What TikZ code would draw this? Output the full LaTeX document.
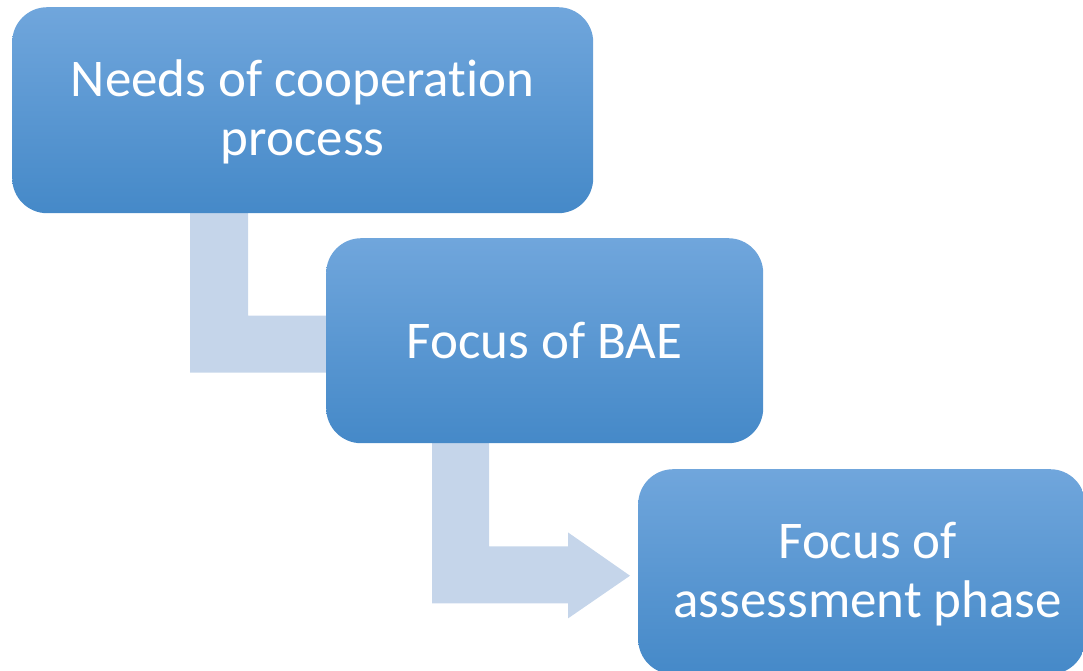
\documentclass[tikz,border=0pt]{standalone}
\usepackage{fontspec}
\setmainfont{Carlito}[Ligatures=CommonOff]
\usetikzlibrary{calc,backgrounds}
\definecolor{boxtop}{HTML}{70A6DC}
\definecolor{boxbot}{HTML}{4589C8}
\definecolor{linkfill}{HTML}{C5D5EA}
\tikzset{
  stepbox/.style={rounded corners=35pt, top color=boxtop, bottom color=boxbot,
    draw=none, inner sep=0pt, anchor=north west},
  steptext/.style={text=white, align=center, font=\fontsize{53}{59}\selectfont},
  linkarrow/.style={fill=linkfill, draw=none}
}
\begin{document}
\begin{tikzpicture}[x=1pt,y=1pt]
\useasboundingbox (0,0) rectangle (1083,-670);
\clip (0,0) rectangle (1083,-670);
% the three step boxes
\node[stepbox, minimum width=581pt, minimum height=206pt] (b1) at (12,-7) {};
\node[stepbox, minimum width=437pt, minimum height=205pt] (b2) at (326,-238) {};
\node[stepbox, minimum width=447pt, minimum height=205pt] (b3) at (638,-469) {};
% their labels
\node[steptext] (t1) at ($(b1.center)+(0,-2)$) {Needs of cooperation\\process};
\node[steptext] (t2) at (b2.center) {Focus of BAE};
\node[steptext] (t3) at ($(b3.center)+(6,-2)$) {Focus of\\assessment phase};
% bent arrows linking the steps, behind the boxes
\begin{scope}[on background layer]
\fill[linkarrow] ($(b1.south west)+(178,1)$) -- ($(b1.south west)+(236,1)$)
  -- ($(b2.west)+(-78,25)$) -- ($(b2.west)+(20,25)$) -- ($(b2.west)+(20,-32)$)
  -- ($(b2.west)+(-136,-32)$) -- cycle;
\fill[linkarrow] ($(b2.south west)+(106,1)$) -- ($(b2.south west)+(163,1)$)
  -- ($(b2.south west)+(163,-103)$) -- ($(b2.south west)+(242,-103)$)
  -- ($(b2.south west)+(242,-89)$) -- ($(b3.west)+(-8,-4)$)
  -- ($(b2.south west)+(242,-175)$) -- ($(b2.south west)+(242,-160)$)
  -- ($(b2.south west)+(106,-160)$) -- cycle;
\end{scope}
\end{tikzpicture}
\end{document}
